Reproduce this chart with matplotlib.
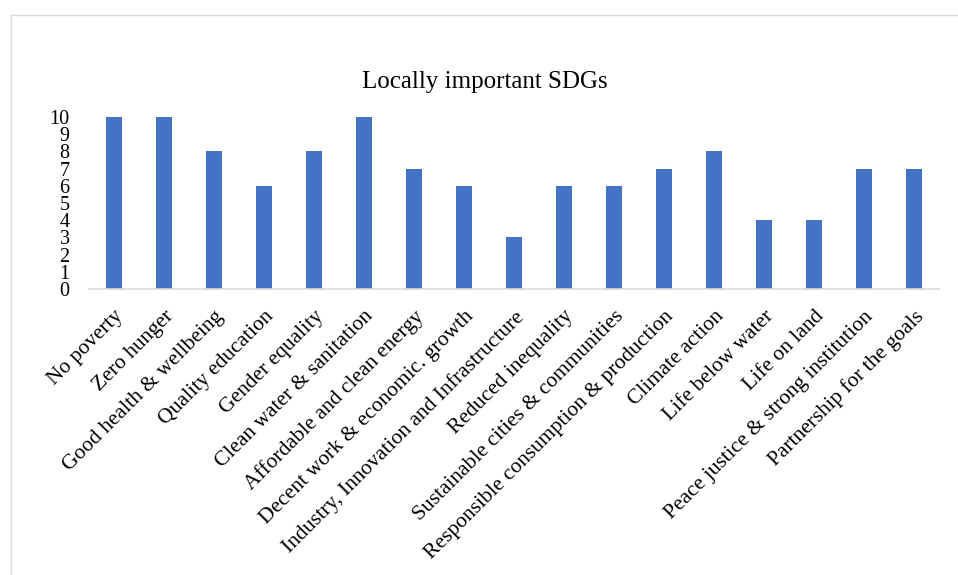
"""Locally important SDGs — bar chart recreation."""

import matplotlib

matplotlib.use("Agg")

import matplotlib.pyplot as plt
from matplotlib.patches import Rectangle

plt.rcParams["font.family"] = ["Liberation Serif", "DejaVu Serif"]

categories = [
    "No poverty",
    "Zero hunger",
    "Good health & wellbeing",
    "Quality education",
    "Gender equality",
    "Clean water & sanitation",
    "Affordable and clean energy",
    "Decent work & economic. growth",
    "Industry, Innovation and Infrastructure",
    "Reduced inequality",
    "Sustainable cities & communities",
    "Responsible consumption & production",
    "Climate action",
    "Life below water",
    "Life on land",
    "Peace justice & strong institution",
    "Partnership for the goals",
]
scores = [10, 10, 8, 6, 8, 10, 7, 6, 3, 6, 6, 7, 8, 4, 4, 7, 7]
y_ticks = list(range(0, 11))

BAR_COLOR = "#4472C4"
AXIS_COLOR = "#D9D9D9"

fig = plt.figure(figsize=(9.58, 5.75), dpi=100)
ax = fig.add_axes([89 / 958, 1 - 289 / 575, 850 / 958, 172 / 575])

x = range(len(categories))
ax.bar(x, scores, width=0.32, color=BAR_COLOR, zorder=2)

ax.set_xlim(-0.5, len(categories) - 0.5)
ax.set_ylim(0, 10)
ax.set_yticks(y_ticks)
ax.set_yticklabels([str(t) for t in y_ticks], fontsize=14.5)
ax.set_xticks(list(x))
ax.set_xticklabels(categories, rotation=45, ha="right", rotation_mode="anchor", fontsize=15.5)

ax.tick_params(axis="y", length=0, pad=14)
ax.tick_params(axis="x", length=0, pad=13)

for side in ("top", "right", "left"):
    ax.spines[side].set_visible(False)
ax.spines["bottom"].set_color(AXIS_COLOR)
ax.spines["bottom"].set_linewidth(1.2)

fig.text(485 / 958, 1 - 82 / 575, "Locally important SDGs", ha="center", va="center", fontsize=18)

# 外框（图表区边框）
fig.patches.append(
    Rectangle((11 / 958, -0.1), 1.1, 1 - 15 / 575 + 0.1, transform=fig.transFigure,
              fill=False, edgecolor=AXIS_COLOR, linewidth=1.0)
)

fig.savefig("out.png", dpi=100, facecolor="white")
plt.close(fig)
